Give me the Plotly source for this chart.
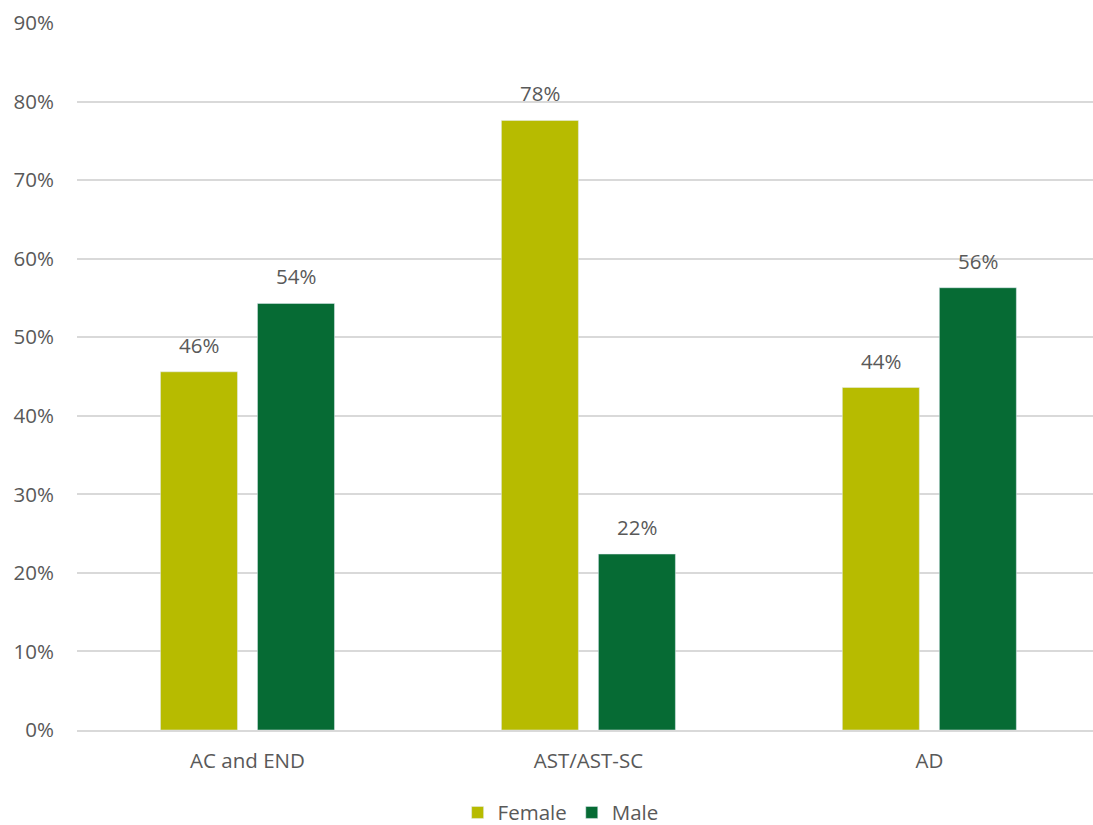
import plotly.graph_objects as go

categories = ["AC and END", "AST/AST-SC", "AD"]
female = [0.456, 0.776, 0.436]
male = [0.543, 0.224, 0.563]
female_labels = ["46%", "78%", "44%"]
male_labels = ["54%", "22%", "56%"]
tick_vals = [0, 0.1, 0.2, 0.3, 0.4, 0.5, 0.6, 0.7, 0.8, 0.9]
tick_text = ["0%", "10%", "20%", "30%", "40%", "50%", "60%", "70%", "80%", "90%"]

FONT = "Open Sans, Noto Sans, sans-serif"
GRAY = "#595959"
FS = 20.5

fig = go.Figure()
fig.add_trace(go.Bar(x=categories, y=female, name="Female", marker_color="#b7bb00"))
fig.add_trace(go.Bar(x=categories, y=male, name="Male", marker_color="#066b34"))

for vals, labels, shift in ((female, female_labels, -48.5), (male, male_labels, 48.5)):
    for c, v, t in zip(categories, vals, labels):
        fig.add_annotation(x=c, y=v, text=t, showarrow=False, xshift=shift,
                           yanchor="bottom", yshift=11,
                           font=dict(size=FS, color=GRAY, family=FONT))

fig.update_layout(
    width=1093, height=825,
    margin=dict(l=77, r=0, t=23, b=95, autoexpand=False),
    plot_bgcolor="white", paper_bgcolor="white",
    barmode="group", bargap=0.431, bargroupgap=0.206,
    font=dict(family=FONT, size=FS, color=GRAY),
    legend=dict(orientation="h", x=0.476, xanchor="center",
                yref="container", y=0.015, yanchor="middle",
                font=dict(size=FS, color=GRAY, family=FONT), itemwidth=30,
                traceorder="normal"),
    showlegend=True,
)
fig.update_xaxes(range=[-0.5, 2.48], showline=True, linecolor="#d9d9d9", linewidth=2,
                 ticks="", tickfont=dict(size=FS, color=GRAY, family=FONT),
                 ticklabelstandoff=11)
fig.update_yaxes(range=[0, 0.9], tickvals=tick_vals, ticktext=tick_text,
                 showgrid=True, gridcolor="#d9d9d9", gridwidth=1.5, zeroline=False,
                 tickfont=dict(size=FS, color=GRAY, family=FONT), ticklabelstandoff=22)

fig.write_html("out.html")
